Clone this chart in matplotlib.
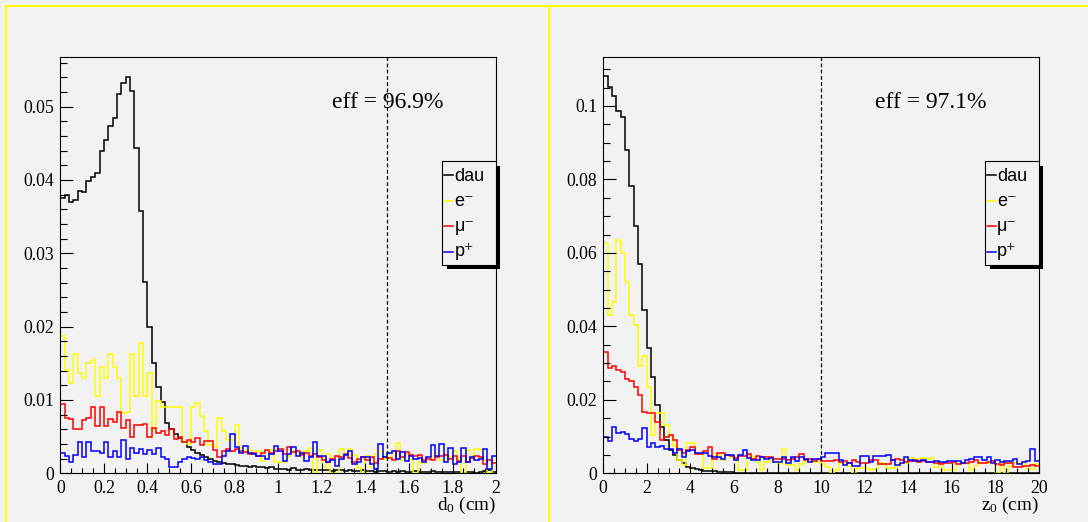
import numpy as np
import matplotlib
matplotlib.use("Agg")
import matplotlib.pyplot as plt
from matplotlib.patches import Rectangle
from matplotlib.lines import Line2D

# ---------------- data ----------------
n_bins = 100
d0_range = (0.0, 2.0)
z0_range = (0.0, 20.0)

series_labels = ["dau", "e\u207b", "\u03bc\u207b", "p\u207a"]
series_colors = ["#000000", "#ffff00", "#ff0000", "#0000ff"]

d0_cut = 1.5
z0_cut = 10.0
d0_eff = "eff = 96.9%"
z0_eff = "eff = 97.1%"

# transverse impact parameter d0, normalised distributions (bin width 0.02 cm)
dau_d0 = [
    0.0375, 0.0379, 0.0370, 0.0372, 0.0385, 0.0383, 0.0398, 0.0404, 0.0409, 0.0439,
    0.0455, 0.0473, 0.0485, 0.0517, 0.0532, 0.0541, 0.0521, 0.0443, 0.0357, 0.0261,
    0.0200, 0.0151, 0.0118, 0.0097, 0.0068, 0.0061, 0.0054, 0.0048, 0.0042, 0.0036,
    0.0032, 0.0028, 0.0025, 0.0022, 0.0019, 0.0017, 0.0016, 0.0014, 0.0013, 0.0012,
    0.0011, 0.0010, 0.0010, 0.0009, 0.0010, 0.0008, 0.0008, 0.0007, 0.0008, 0.0006,
    0.0006, 0.0006, 0.0005, 0.0007, 0.0005, 0.0005, 0.0006, 0.0004, 0.0005, 0.0004,
    0.0004, 0.0005, 0.0003, 0.0004, 0.0004, 0.0003, 0.0004, 0.0003, 0.0003, 0.0004,
    0.0003, 0.0003, 0.0002, 0.0003, 0.0003, 0.0002, 0.0003, 0.0002, 0.0003, 0.0002,
    0.0002, 0.0003, 0.0002, 0.0002, 0.0002, 0.0003, 0.0002, 0.0002, 0.0002, 0.0002,
    0.0002, 0.0002, 0.0001, 0.0002, 0.0002, 0.0001, 0.0002, 0.0003, 0.0005, 0.0002,
]
e_d0 = [
    0.0187, 0.0141, 0.0123, 0.0163, 0.0137, 0.0130, 0.0150, 0.0155, 0.0105, 0.0145,
    0.0130, 0.0163, 0.0145, 0.0130, 0.0082, 0.0084, 0.0163, 0.0105, 0.0178, 0.0105,
    0.0137, 0.0059, 0.0098, 0.0091, 0.0091, 0.0091, 0.0091, 0.0091, 0.0042, 0.0040,
    0.0091, 0.0096, 0.0078, 0.0058, 0.0038, 0.0036, 0.0075, 0.0058, 0.0045, 0.0046,
    0.0066, 0.0034, 0.0030, 0.0032, 0.0026, 0.0031, 0.0017, 0.0021, 0.0032, 0.0016,
    0.0016, 0.0016, 0.0024, 0.0031, 0.0027, 0.0022, 0.0030, 0.0035, 0.0001, 0.0032,
    0.0009, 0.0026, 0.0000, 0.0000, 0.0033, 0.0025, 0.0033, 0.0025, 0.0007, 0.0000,
    0.0024, 0.0009, 0.0026, 0.0030, 0.0020, 0.0022, 0.0028, 0.0041, 0.0018, 0.0026,
    0.0020, 0.0000, 0.0016, 0.0014, 0.0022, 0.0024, 0.0028, 0.0018, 0.0025, 0.0022,
    0.0030, 0.0020, 0.0000, 0.0032, 0.0020, 0.0033, 0.0032, 0.0018, 0.0000, 0.0014,
]
mu_d0 = [
    0.0095, 0.0075, 0.0074, 0.0060, 0.0061, 0.0073, 0.0076, 0.0090, 0.0065, 0.0090,
    0.0065, 0.0074, 0.0070, 0.0084, 0.0062, 0.0072, 0.0049, 0.0066, 0.0066, 0.0067,
    0.0050, 0.0062, 0.0055, 0.0058, 0.0052, 0.0060, 0.0047, 0.0050, 0.0043, 0.0046,
    0.0043, 0.0048, 0.0038, 0.0044, 0.0044, 0.0032, 0.0022, 0.0030, 0.0033, 0.0031,
    0.0033, 0.0030, 0.0029, 0.0026, 0.0028, 0.0024, 0.0027, 0.0032, 0.0027, 0.0030,
    0.0033, 0.0026, 0.0036, 0.0029, 0.0031, 0.0025, 0.0027, 0.0024, 0.0026, 0.0022,
    0.0018, 0.0015, 0.0020, 0.0024, 0.0022, 0.0026, 0.0021, 0.0016, 0.0020, 0.0022,
    0.0018, 0.0022, 0.0014, 0.0019, 0.0022, 0.0021, 0.0018, 0.0031, 0.0022, 0.0029,
    0.0025, 0.0023, 0.0025, 0.0018, 0.0020, 0.0018, 0.0022, 0.0024, 0.0025, 0.0020,
    0.0024, 0.0017, 0.0023, 0.0016, 0.0021, 0.0024, 0.0022, 0.0012, 0.0018, 0.0014,
]
p_d0 = [
    0.0027, 0.0024, 0.0016, 0.0025, 0.0042, 0.0022, 0.0042, 0.0030, 0.0031, 0.0027,
    0.0042, 0.0022, 0.0030, 0.0022, 0.0045, 0.0020, 0.0035, 0.0027, 0.0033, 0.0026,
    0.0032, 0.0026, 0.0034, 0.0022, 0.0020, 0.0009, 0.0009, 0.0016, 0.0019, 0.0022,
    0.0021, 0.0020, 0.0022, 0.0018, 0.0015, 0.0013, 0.0012, 0.0024, 0.0030, 0.0053,
    0.0036, 0.0028, 0.0037, 0.0028, 0.0026, 0.0023, 0.0024, 0.0019, 0.0026, 0.0037,
    0.0030, 0.0017, 0.0026, 0.0036, 0.0023, 0.0027, 0.0017, 0.0022, 0.0043, 0.0024,
    0.0024, 0.0015, 0.0018, 0.0010, 0.0019, 0.0025, 0.0030, 0.0013, 0.0016, 0.0022,
    0.0022, 0.0012, 0.0006, 0.0040, 0.0022, 0.0027, 0.0030, 0.0019, 0.0029, 0.0017,
    0.0023, 0.0019, 0.0021, 0.0016, 0.0022, 0.0038, 0.0023, 0.0040, 0.0015, 0.0035,
    0.0012, 0.0016, 0.0035, 0.0015, 0.0022, 0.0018, 0.0020, 0.0033, 0.0006, 0.0024,
]

# longitudinal impact parameter z0, normalised distributions (bin width 0.2 cm)
dau_z0 = [
    0.1082, 0.1051, 0.1028, 0.0985, 0.0969, 0.0880, 0.0783, 0.0674, 0.0570, 0.0445,
    0.0340, 0.0263, 0.0186, 0.0127, 0.0090, 0.0064, 0.0050, 0.0036, 0.0027, 0.0018,
    0.0014, 0.0011, 0.0009, 0.0007, 0.0006, 0.0005, 0.0004, 0.0004, 0.0003, 0.0003,
    0.0002, 0.0002, 0.0002, 0.0002, 0.0001, 0.0002, 0.0001, 0.0001, 0.0001, 0.0001,
    0.0001, 0.0001, 0.0001, 0.0000, 0.0001, 0.0001, 0.0000, 0.0001, 0.0000, 0.0001,
    0.0000, 0.0001, 0.0000, 0.0000, 0.0001, 0.0000, 0.0000, 0.0001, 0.0000, 0.0000,
    0.0000, 0.0000, 0.0001, 0.0000, 0.0000, 0.0000, 0.0000, 0.0000, 0.0001, 0.0000,
    0.0000, 0.0000, 0.0000, 0.0000, 0.0000, 0.0001, 0.0000, 0.0000, 0.0000, 0.0000,
    0.0000, 0.0000, 0.0000, 0.0000, 0.0000, 0.0000, 0.0000, 0.0000, 0.0000, 0.0000,
    0.0000, 0.0000, 0.0000, 0.0000, 0.0000, 0.0000, 0.0000, 0.0000, 0.0000, 0.0000,
]
e_z0 = [
    0.0626, 0.0432, 0.0466, 0.0634, 0.0600, 0.0520, 0.0432, 0.0405, 0.0292, 0.0318,
    0.0236, 0.0105, 0.0163, 0.0163, 0.0132, 0.0102, 0.0075, 0.0036, 0.0023, 0.0082,
    0.0082, 0.0054, 0.0054, 0.0014, 0.0014, 0.0048, 0.0050, 0.0036, 0.0050, 0.0045,
    0.0036, 0.0009, 0.0009, 0.0050, 0.0045, 0.0030, 0.0009, 0.0030, 0.0036, 0.0030,
    0.0025, 0.0065, 0.0022, 0.0022, 0.0008, 0.0025, 0.0030, 0.0030, 0.0030, 0.0030,
    0.0026, 0.0018, 0.0000, 0.0010, 0.0027, 0.0026, 0.0020, 0.0000, 0.0014, 0.0014,
    0.0015, 0.0009, 0.0012, 0.0027, 0.0026, 0.0014, 0.0014, 0.0020, 0.0027, 0.0028,
    0.0041, 0.0040, 0.0038, 0.0041, 0.0040, 0.0041, 0.0018, 0.0027, 0.0009, 0.0009,
    0.0009, 0.0024, 0.0027, 0.0027, 0.0009, 0.0020, 0.0028, 0.0027, 0.0028, 0.0029,
    0.0000, 0.0026, 0.0000, 0.0020, 0.0027, 0.0028, 0.0026, 0.0013, 0.0012, 0.0025,
]
mu_z0 = [
    0.0331, 0.0286, 0.0292, 0.0281, 0.0276, 0.0256, 0.0252, 0.0236, 0.0213, 0.0168,
    0.0163, 0.0163, 0.0141, 0.0091, 0.0100, 0.0104, 0.0091, 0.0064, 0.0054, 0.0064,
    0.0072, 0.0052, 0.0052, 0.0062, 0.0072, 0.0038, 0.0055, 0.0055, 0.0050, 0.0048,
    0.0043, 0.0048, 0.0046, 0.0052, 0.0040, 0.0048, 0.0045, 0.0044, 0.0045, 0.0040,
    0.0039, 0.0038, 0.0037, 0.0040, 0.0045, 0.0053, 0.0036, 0.0040, 0.0034, 0.0039,
    0.0034, 0.0034, 0.0033, 0.0035, 0.0030, 0.0034, 0.0029, 0.0036, 0.0030, 0.0029,
    0.0029, 0.0035, 0.0035, 0.0024, 0.0025, 0.0024, 0.0036, 0.0038, 0.0035, 0.0031,
    0.0033, 0.0036, 0.0031, 0.0034, 0.0030, 0.0030, 0.0027, 0.0025, 0.0028, 0.0029,
    0.0030, 0.0025, 0.0027, 0.0029, 0.0032, 0.0036, 0.0029, 0.0028, 0.0030, 0.0033,
    0.0026, 0.0023, 0.0027, 0.0028, 0.0018, 0.0018, 0.0020, 0.0019, 0.0022, 0.0020,
]
p_z0 = [
    0.0100, 0.0088, 0.0127, 0.0111, 0.0112, 0.0106, 0.0093, 0.0089, 0.0094, 0.0122,
    0.0072, 0.0082, 0.0072, 0.0073, 0.0066, 0.0066, 0.0056, 0.0066, 0.0044, 0.0060,
    0.0063, 0.0055, 0.0056, 0.0054, 0.0047, 0.0045, 0.0044, 0.0040, 0.0050, 0.0050,
    0.0036, 0.0050, 0.0064, 0.0041, 0.0037, 0.0036, 0.0045, 0.0038, 0.0041, 0.0032,
    0.0032, 0.0045, 0.0027, 0.0045, 0.0033, 0.0045, 0.0038, 0.0032, 0.0040, 0.0038,
    0.0045, 0.0054, 0.0054, 0.0054, 0.0037, 0.0023, 0.0027, 0.0020, 0.0019, 0.0047,
    0.0047, 0.0032, 0.0047, 0.0047, 0.0047, 0.0050, 0.0036, 0.0023, 0.0029, 0.0044,
    0.0035, 0.0034, 0.0033, 0.0035, 0.0032, 0.0032, 0.0034, 0.0030, 0.0032, 0.0034,
    0.0033, 0.0033, 0.0029, 0.0037, 0.0040, 0.0044, 0.0044, 0.0035, 0.0044, 0.0029,
    0.0035, 0.0032, 0.0034, 0.0033, 0.0039, 0.0025, 0.0032, 0.0034, 0.0065, 0.0033,
]

d0_xticks = [0, 0.2, 0.4, 0.6, 0.8, 1.0, 1.2, 1.4, 1.6, 1.8, 2.0]
d0_xticklabels = ["0", "0.2", "0.4", "0.6", "0.8", "1", "1.2", "1.4", "1.6", "1.8", "2"]
d0_yticks = [0, 0.01, 0.02, 0.03, 0.04, 0.05]
d0_yticklabels = ["0", "0.01", "0.02", "0.03", "0.04", "0.05"]
z0_xticks = [0, 2, 4, 6, 8, 10, 12, 14, 16, 18, 20]
z0_xticklabels = ["0", "2", "4", "6", "8", "10", "12", "14", "16", "18", "20"]
z0_yticks = [0, 0.02, 0.04, 0.06, 0.08, 0.1]
z0_yticklabels = ["0", "0.02", "0.04", "0.06", "0.08", "0.1"]

# ---------------- style ----------------
W, H = 1088, 522
BG = "#f2f2f2"
SERIF = "Liberation Serif"
SANS = ["Liberation Sans", "DejaVu Sans"]

plt.rcParams["mathtext.fontset"] = "custom"
plt.rcParams["mathtext.rm"] = SERIF
plt.rcParams["mathtext.it"] = SERIF + ":italic"

fig = plt.figure(figsize=(W / 100, H / 100), dpi=100, facecolor=BG)


def fx(x):
    return x / W


def fy(y):
    return 1 - y / H


def draw_panel(left_px, edges, hists, cut, eff, xlabel, ymax,
               xticks, xticklabels, xminor, yticks, yticklabels, yminor,
               legend_box):
    top_px, bottom_px, width_px = 56.7, 473.3, 435.8
    ax = fig.add_axes([fx(left_px), fy(bottom_px), width_px / W,
                       (bottom_px - top_px) / H])
    ax.set_facecolor(BG)
    for vals, col in zip(hists, series_colors):
        ax.stairs(vals, edges, color=col, lw=1.1, baseline=None)
    ax.set_xlim(edges[0], edges[-1])
    ax.set_ylim(0, ymax)
    ax.axvline(cut, color="black", lw=0.9, ls=(0, (3, 2)))

    ax.set_xticks(xticks)
    ax.set_xticklabels(xticklabels)
    ax.set_xticks(xminor, minor=True)
    ax.set_yticks(yticks)
    ax.set_yticklabels(yticklabels)
    ax.set_yticks(yminor, minor=True)
    ax.tick_params(which="both", direction="in", top=False, right=False,
                   width=0.8, color="black")
    ax.tick_params(axis="x", which="major", length=7.2, pad=4.5)
    ax.tick_params(axis="x", which="minor", length=3.6)
    ax.tick_params(axis="y", which="major", length=9.7, pad=4.3)
    ax.tick_params(axis="y", which="minor", length=4.7)
    for lab in ax.get_xticklabels() + ax.get_yticklabels():
        lab.set_fontfamily(SERIF)
        lab.set_fontsize(12.8)
    for sp in ax.spines.values():
        sp.set_linewidth(0.8)
        sp.set_color("black")

    ax.text(0.623, 0.8757, eff, transform=ax.transAxes, fontsize=17,
            family=SERIF, va="baseline", ha="left")
    ax.text(1.0, -0.0881, xlabel, transform=ax.transAxes, fontsize=13.8,
            family=SERIF, va="baseline", ha="right")

    # legend with ROOT-like drop shadow
    bx0, by0, bx1, by1 = legend_box
    fig.add_artist(Rectangle((fx(bx0 + 5), fy(by1 + 3.5)), (bx1 - bx0 - 1.5) / W,
                             (by1 - by0 - 1.5) / H, transform=fig.transFigure,
                             facecolor="black", edgecolor="none", zorder=5))
    fig.add_artist(Rectangle((fx(bx0), fy(by1)), (bx1 - bx0) / W, (by1 - by0) / H,
                             transform=fig.transFigure, facecolor=BG,
                             edgecolor="black", lw=0.8, zorder=6))
    line_y = [175, 200.5, 226, 251.5]
    text_y = [181.5, 206, 230.5, 256]
    for lab, col, ly, ty in zip(series_labels, series_colors, line_y, text_y):
        fig.add_artist(Line2D([fx(bx0 + 2), fx(bx0 + 11)], [fy(ly), fy(ly)],
                              transform=fig.transFigure, color=col, lw=1.1,
                              zorder=7))
        fig.text(fx(bx0 + 12.3), fy(ty), lab, fontsize=13, family=SANS,
                 va="baseline", ha="left", zorder=7)
    return ax


d0_edges = np.linspace(d0_range[0], d0_range[1], n_bins + 1)
z0_edges = np.linspace(z0_range[0], z0_range[1], n_bins + 1)

draw_panel(60.3, d0_edges, [dau_d0, e_d0, mu_d0, p_d0], d0_cut, d0_eff,
           r"$\mathrm{d}_{0}$ (cm)", 0.0568,
           d0_xticks, d0_xticklabels, np.arange(0, 2.001, 0.05),
           d0_yticks, d0_yticklabels, np.arange(0, 0.0568, 0.002),
           (442, 160.7, 496, 265))
draw_panel(603.2, z0_edges, [dau_z0, e_z0, mu_z0, p_z0], z0_cut, z0_eff,
           r"$\mathrm{z}_{0}$ (cm)", 0.1134,
           z0_xticks, z0_xticklabels, np.arange(0, 20.01, 0.5),
           z0_yticks, z0_yticklabels, np.arange(0, 0.1134, 0.005),
           (984.7, 160.7, 1039, 265))

# yellow pad frames
ycol = "#ffff00"
fig.add_artist(Line2D([fx(6), fx(6)], [0, fy(6)], transform=fig.transFigure,
                      color=ycol, lw=1.5))
fig.add_artist(Line2D([fx(549), fx(549)], [0, fy(6)], transform=fig.transFigure,
                      color=ycol, lw=1.5))
fig.add_artist(Line2D([fx(6), 1], [fy(6), fy(6)], transform=fig.transFigure,
                      color=ycol, lw=1.5))

fig.savefig("out.png", dpi=100, facecolor=BG)
